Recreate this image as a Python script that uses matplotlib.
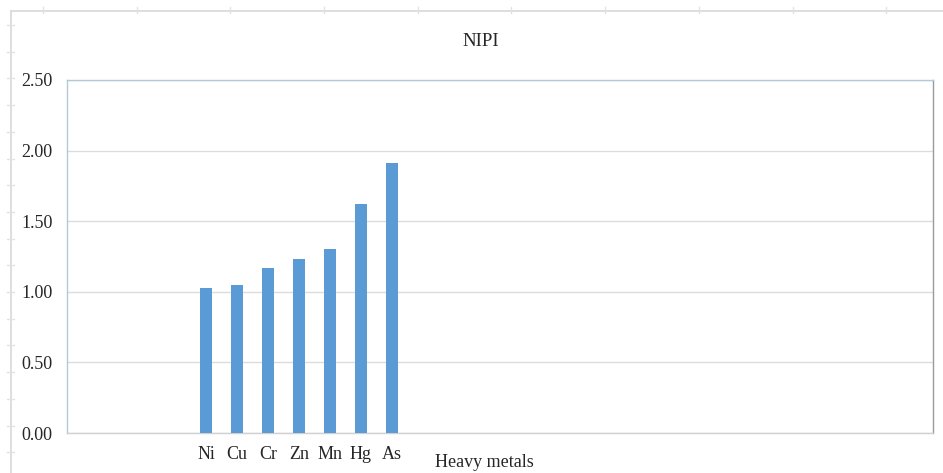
import numpy as np
import matplotlib
matplotlib.use('Agg')
import matplotlib.pyplot as plt
from matplotlib.lines import Line2D

# data
metals = ['Ni', 'Cu', 'Cr', 'Zn', 'Mn', 'Hg', 'As']
nipi = [1.03, 1.05, 1.17, 1.23, 1.30, 1.62, 1.91]
n_slots = 28          # category axis has empty slots, bars start at slot 4
first_slot = 4
yticks = [0.0, 0.5, 1.0, 1.5, 2.0, 2.5]

plt.rcParams['font.family'] = ['Liberation Serif', 'DejaVu Serif']
W, H = 943, 473
fig = plt.figure(figsize=(W / 100, H / 100), dpi=100)

ax = fig.add_axes([67 / W, (H - 433) / H, (933 - 67) / W, (433 - 80) / H])
x = np.arange(first_slot, first_slot + len(metals))
ax.bar(x, nipi, width=0.39, color='#5b9bd5', zorder=3)

ax.set_xlim(-0.5, n_slots - 0.5)
ax.set_ylim(0, 2.5)
ax.set_yticks(yticks)
ax.set_yticklabels(['%.2f' % v for v in yticks])
ax.set_xticks(x)
ax.set_xticklabels(metals)
ax.tick_params(axis='both', length=0, labelsize=13, labelcolor='#262626')
ax.tick_params(axis='y', pad=10.5)
ax.tick_params(axis='x', pad=9)
ax.yaxis.grid(True, color='#dcdcdc', lw=1, zorder=0)

ax.spines['top'].set_color('#b3c8d8')
ax.spines['left'].set_color('#b3c8d8')
ax.spines['right'].set_color('#9a9a9a')
ax.spines['bottom'].set_color('#d0d0d0')
for s in ax.spines.values():
    s.set_linewidth(1)

fig.text(481 / W, 1 - 42 / H, 'NIPI', ha='center', va='center',
         fontsize=13.5, color='#262626')
fig.text(484 / W, 1 - 462 / H, 'Heavy metals', ha='center', va='center',
         fontsize=13, color='#262626')

# outer sheet frame with little ruler marks
fc = '#d8d8d8'
fig.add_artist(Line2D([11 / W, 1], [1 - 11 / H, 1 - 11 / H], color=fc, lw=1.2))
fig.add_artist(Line2D([11 / W, 11 / W], [0, 1 - 11 / H], color=fc, lw=1.2))
for px in np.arange(43, W, 93.7):
    fig.add_artist(Line2D([px / W, px / W], [1 - 7 / H, 1 - 13 / H], color='#e2e2e2', lw=1))
for py in np.arange(25, H, 26.7):
    fig.add_artist(Line2D([7 / W, 14 / W], [1 - py / H, 1 - py / H], color='#e2e2e2', lw=1))

fig.savefig('out.png', dpi=100)
